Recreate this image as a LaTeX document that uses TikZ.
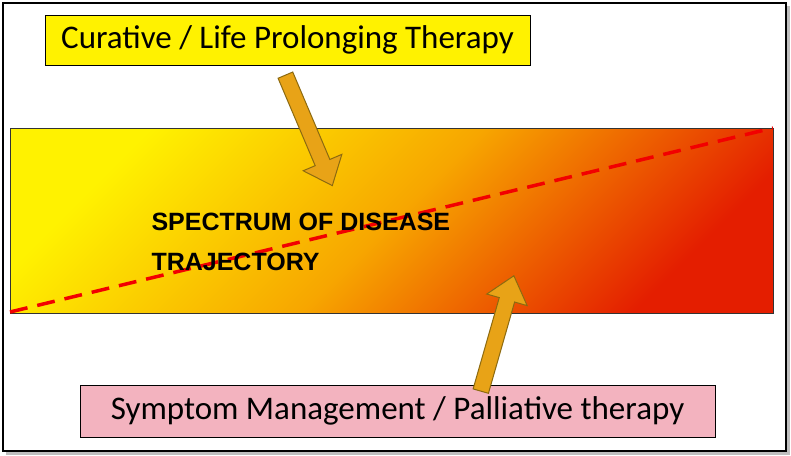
\documentclass[tikz,border=0pt]{standalone}
\usepackage{fontspec}
\setmainfont{Carlito}
\newfontfamily\specfont{Liberation Sans}
\usetikzlibrary{shapes.arrows}
\definecolor{arrfill}{HTML}{E8A317}
\definecolor{arrline}{HTML}{8C6A10}
\definecolor{pinkbox}{HTML}{F3B3BF}
\definecolor{gy}{HTML}{FFF200}
\definecolor{go}{HTML}{F7A600}
\definecolor{gr}{HTML}{E41E00}
\tikzset{
  label box/.style={draw=black, line width=0.8pt, font=\fontsize{33}{36}\selectfont, inner sep=0pt, anchor=center},
  fat arrow/.style={single arrow, draw=arrline, fill=arrfill, line width=1pt, minimum width=42pt, single arrow head extend=9pt, single arrow tip angle=80, inner sep=5pt, minimum height=120pt}
}
\begin{document}
\begin{tikzpicture}[x=1pt,y=-1pt]
\useasboundingbox (0,0) rectangle (791,455);
\fill[gray!50] (6,6) rectangle (790,455);
\draw[line width=2.5pt, fill=white] (3,3) rectangle (786,451);
\shade[shading=axis, left color=gy, right color=gr, middle color=go, shading angle=45] (10,128) rectangle (773,313);
\draw[black!80, line width=0.6pt] (10,128) rectangle (773,313);
\coordinate (dl) at (10,312);
\coordinate (dr) at (773,128);
\draw[red!95!black, line width=3.5pt, dash pattern=on 18pt off 10pt] (dl) -- (dr);
\node[font=\specfont\bfseries\fontsize{25}{40}\selectfont, align=left, anchor=west] (spec) at (148,242) {SPECTRUM OF DISEASE\\TRAJECTORY};
\node[label box, fill=yellow, minimum width=485pt, minimum height=50pt] (top) at (287.5,40) {Curative / Life Prolonging Therapy};
\node[label box, fill=pinkbox, minimum width=635pt, minimum height=52pt] (bot) at (397.5,411) {Symptom Management / Palliative therapy};
\node[fat arrow, rotate=-67] (a1) at (307,126) {};
\node[fat arrow, rotate=74] (a2) at (496,338) {};
\end{tikzpicture}
\end{document}
